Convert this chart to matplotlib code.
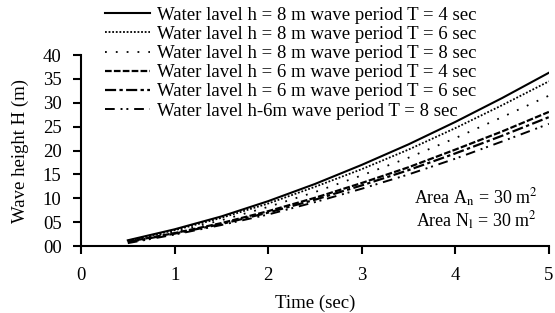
import matplotlib
matplotlib.use("Agg")
import matplotlib.pyplot as plt

plt.rcParams["font.family"] = ["Liberation Serif", "DejaVu Serif"]
plt.rcParams["mathtext.fontset"] = "stix"

time = [0.5, 1.0, 1.5, 2.0, 2.5, 3.0, 3.5, 4.0, 4.5, 5.0]
h8_t4 = [1.2, 3.5, 6.2, 9.4, 13.0, 17.0, 21.3, 26.0, 31.0, 36.3]
h8_t6 = [1.1, 3.3, 5.9, 8.9, 12.4, 16.1, 20.2, 24.7, 29.5, 34.5]
h8_t8 = [1.0, 3.0, 5.4, 8.2, 11.3, 14.8, 18.5, 22.6, 27.0, 31.5]
h6_t4 = [0.9, 2.7, 4.8, 7.3, 10.1, 13.2, 16.5, 20.2, 24.0, 28.1]
h6_t6 = [0.8, 2.6, 4.6, 7.0, 9.7, 12.7, 15.9, 19.4, 23.1, 27.0]
h6_t8 = [0.6, 2.4, 4.4, 6.6, 9.2, 12.0, 15.0, 18.3, 21.9, 25.6]

labels = ["Water lavel h = 8 m wave period T = 4 sec",
          "Water lavel h = 8 m wave period T = 6 sec",
          "Water lavel h = 8 m wave period T = 8 sec",
          "Water lavel h = 6 m wave period T = 4 sec",
          "Water lavel h = 6 m wave period T = 6 sec",
          "Water lavel h-6m wave period T = 8 sec"]
yticks = [0, 5, 10, 15, 20, 25, 30, 35, 40]
ytick_labels = ["00", "05", "10", "15", "20", "25", "30", "35", "40"]

series = [h8_t4, h8_t6, h8_t8, h6_t4, h6_t6, h6_t8]
styles = ["-", (0, (1, 1)), (0, (1, 5)), (0, (3, 1)),
          (0, (5, 1.5, 1.5, 1.5)), (0, (5, 3, 1, 2, 1, 3))]
widths = [1.5, 1.3, 1.3, 1.6, 1.6, 1.4]

fig = plt.figure(figsize=(5.55, 3.13), dpi=100)
ax = fig.add_axes([0.146, 0.214, 0.843, 0.61])

for y, ls, lw, lab in zip(series, styles, widths, labels):
    ax.plot(time, y, color="black", linestyle=ls, linewidth=lw, label=lab)

ax.set_xlim(0, 5)
ax.set_ylim(0, 40)
ax.set_yticks(yticks)
ax.set_yticklabels(ytick_labels)
ax.set_xticks([0, 1, 2, 3, 4, 5])
ax.spines["top"].set_visible(False)
ax.spines["right"].set_visible(False)
ax.spines["left"].set_linewidth(1.5)
ax.spines["bottom"].set_linewidth(1.5)
ax.tick_params(direction="out", length=6, width=1.5, labelsize=13.5)
ax.tick_params(axis="y", pad=8)
ax.tick_params(axis="x", pad=9)

ax.set_xlabel("Time (sec)", fontsize=13.5, labelpad=8)
ax.set_ylabel("Wave height H (m)", fontsize=13.5, labelpad=10)

ax.text(0.845, 0.25, "Area A$_\\mathrm{n}$ = 30 m$^2$", transform=ax.transAxes,
        ha="center", va="center", fontsize=13)
ax.text(0.845, 0.13, "Area N$_\\mathrm{l}$ = 30 m$^2$", transform=ax.transAxes,
        ha="center", va="center", fontsize=13)

fig.legend(loc="upper left", bbox_to_anchor=(0.186, 0.985), frameon=False,
           fontsize=13.5, handlelength=2.4, handletextpad=0.37, labelspacing=0.11,
           borderaxespad=0.0, borderpad=0.1)

fig.savefig("out.png", dpi=100)
plt.close(fig)
